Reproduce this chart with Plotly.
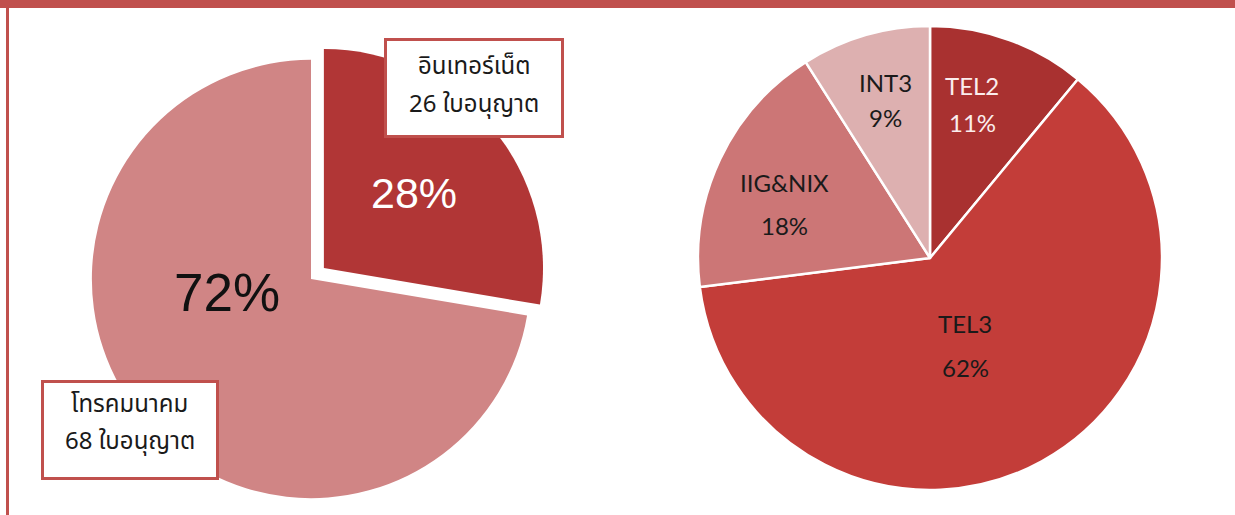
import plotly.graph_objects as go

W, H = 1235, 515

# ---- data ----
left_labels = ["อินเทอร์เน็ต", "โทรคมนาคม"]
left_values = [26, 68]
left_unit = "ใบอนุญาต"

right_labels = ["TEL2", "TEL3", "IIG&NIX", "INT3"]
right_values = [11, 62, 18, 9]

# ---- styles ----
left_colors = ["#B13636", "#D08585"]
right_colors = ["#A93130", "#C33D39", "#CC7676", "#DDB0B0"]
frame_red = "#C0504D"
thai_font = "Noto Sans Thai, Leelawadee UI, Tahoma, Noto Sans, sans-serif"


def px_x(x):
    return x / W


def px_y(y):
    return 1 - y / H


fig = go.Figure()

# left pie
lc = (311, 279)
lpull = 0.077
lhalf = 236
fig.add_trace(go.Pie(
    labels=left_labels, values=left_values, sort=False, direction="clockwise",
    rotation=0, pull=[lpull, 0], marker=dict(colors=left_colors, line=dict(width=0)),
    textinfo="none", hoverinfo="label+value+percent", showlegend=False,
    domain=dict(x=[px_x(lc[0] - lhalf), px_x(lc[0] + lhalf)],
                y=[max(0, px_y(lc[1] + lhalf)), px_y(lc[1] - lhalf)]),
))

# right pie
rc = (930, 258)
rr = 232
fig.add_trace(go.Pie(
    labels=right_labels, values=right_values, sort=False, direction="clockwise",
    rotation=0, marker=dict(colors=right_colors, line=dict(color="white", width=2.5)),
    textinfo="none", hoverinfo="label+percent", showlegend=False,
    domain=dict(x=[px_x(rc[0] - rr), px_x(rc[0] + rr)],
                y=[px_y(rc[1] + rr), px_y(rc[1] - rr)]),
))

ann = []
tot_l = sum(left_values)
pct_l = [round(v / tot_l * 100) for v in left_values]


def text_ann(x, y, text, font, **kw):
    d = dict(x=px_x(x), y=px_y(y), xref="paper", yref="paper", text=text,
             showarrow=False, xanchor="center", yanchor="middle", font=font)
    d.update(kw)
    return d


# percentage labels on the left pie
ann.append(text_ann(414, 193, f"{pct_l[0]}%",
                    dict(family="Liberation Sans, Arial", size=43, color="white")))
ann.append(text_ann(227, 292, f"{pct_l[1]}%",
                    dict(family="Liberation Sans, Arial", size=53, color="#111111")))

# callout boxes
boxes = [((474.5, 88), 174, 94, (67, 105)), ((129.5, 429.5), 172, 94, (405, 442))]
for i, (ctr, bw, bh, ys) in enumerate(boxes):
    ann.append(text_ann(ctr[0], ctr[1], " ", dict(size=10),
                        width=bw, height=bh, bgcolor="white", bordercolor=frame_red,
                        borderwidth=3, borderpad=0))
    tf = dict(family=thai_font, size=24, color="#1a1a1a")
    ann.append(text_ann(ctr[0], ys[0], left_labels[i], tf))
    ann.append(text_ann(ctr[0], ys[1], f"{left_values[i]} {left_unit}", tf))

# right pie labels
tot_r = sum(right_values)
right_pos = [(972, 85, 123), (965, 323, 367), (784, 182, 225), (885, 83, 118)]
right_txt_col = ["#FBEDED", "#1a1a1a", "#1a1a1a", "#1a1a1a"]
for lab, v, (x, y1, y2), col in zip(right_labels, right_values, right_pos, right_txt_col):
    f = dict(family="Lato, Open Sans, sans-serif", size=24, color=col)
    ann.append(text_ann(x, y1, lab, f))
    ann.append(text_ann(x, y2, f"{round(v / tot_r * 100)}%", f))

shapes = [
    dict(type="rect", xref="paper", yref="paper", x0=0, x1=1, y0=px_y(8), y1=1,
         fillcolor=frame_red, line=dict(width=0), layer="above"),
    dict(type="rect", xref="paper", yref="paper", x0=px_x(6), x1=px_x(9), y0=0, y1=px_y(8),
         fillcolor=frame_red, line=dict(width=0), layer="above"),
]

fig.update_layout(
    width=W, height=H, margin=dict(l=0, r=0, t=0, b=0),
    paper_bgcolor="white", plot_bgcolor="white",
    annotations=ann, shapes=shapes, showlegend=False,
)

fig.write_html("out.html", config={"displayModeBar": False},
               post_script="document.body.style.margin='0px';document.body.style.overflow='hidden';")
